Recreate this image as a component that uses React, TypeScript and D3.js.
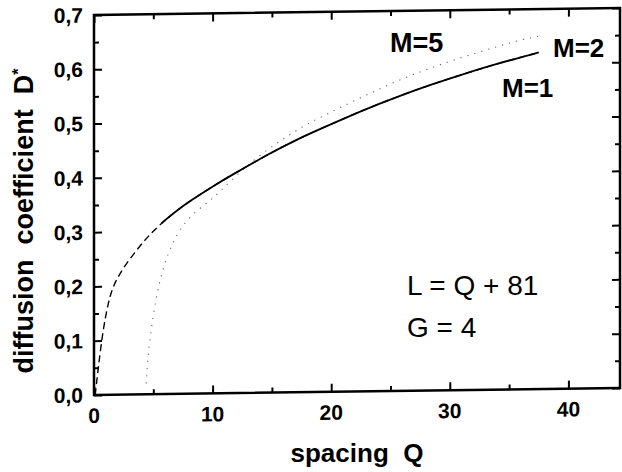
import React, { useEffect, useRef } from 'react';
import * as d3 from 'd3';

// curves: Q (spacing) vs D* (diffusion coefficient)
const m1Q = [5.7, 7.2, 8.9, 10.5, 12.3, 14.5, 17.3, 20.1, 22.9, 25.7, 28.5, 31.3, 34.1, 37.5];
const m1D = [0.315, 0.342, 0.366, 0.388, 0.41, 0.437, 0.468, 0.494, 0.52, 0.543, 0.564, 0.583, 0.601, 0.62];

const m2Q = [0.1, 0.36, 0.76, 1.2, 1.6, 2.35, 3.45, 4.5, 5.7, 7.2, 8.9, 10.5, 12.3, 14.5, 17.3, 20.1, 22.9, 25.7, 28.5, 31.3, 34.1, 37.5];
const m2D = [0.0, 0.05, 0.12, 0.17, 0.2, 0.23, 0.262, 0.29, 0.315, 0.342, 0.366, 0.388, 0.41, 0.437, 0.468, 0.494, 0.52, 0.543, 0.564, 0.583, 0.601, 0.62];

const m5Q = [4.4, 4.6, 5.5, 7.0, 8.5, 10.0, 11.4, 14.0, 17.3, 18.7, 22.35, 25.7, 29.1, 32.4, 35.8, 37.5];
const m5D = [0.02, 0.09, 0.22, 0.3, 0.335, 0.358, 0.389, 0.44, 0.486, 0.502, 0.54, 0.573, 0.6, 0.622, 0.643, 0.65];

const yTicks = [0, 0.1, 0.2, 0.3, 0.4, 0.5, 0.6, 0.7];
const yTickLabels = ['0,0', '0,1', '0,2', '0,3', '0,4', '0,5', '0,6', '0,7'];
const xTicks = [0, 10, 20, 30, 40];
const xTickLabels = ['0', '10', '20', '30', '40'];

const FONT = '"Liberation Sans", Arial, Helvetica, sans-serif';

export default function App() {
  const ref = useRef<SVGGElement>(null);

  useEffect(() => {
    const root = d3.select(ref.current);
    root.selectAll('*').remove();

    const x = d3.scaleLinear().domain([0, 44.35]).range([94, 620]);
    const y = d3.scaleLinear().domain([0, 0.7]).range([395, 15]);
    const [x0, x1] = x.range();
    const [y0, y1] = y.range();

    // the scan is slightly skewed: right side sits a few px higher
    const g = root.append('g')
      .attr('transform', `translate(${x0},0) skewY(-0.77) translate(${-x0},0)`);

    // frame
    g.append('rect')
      .attr('x', x0).attr('y', y1)
      .attr('width', x1 - x0).attr('height', y0 - y1)
      .attr('fill', 'none').attr('stroke', '#000').attr('stroke-width', 2.5);

    // ticks (inward), built from d3 axes
    const xMinor = d3.range(5, 44, 10);
    const yMinor = d3.range(0.05, 0.7, 0.1);
    const axisStyle = (sel: any) => {
      sel.select('.domain').remove();
      sel.selectAll('line').attr('stroke', '#000').attr('stroke-width', 2);
      sel.selectAll('text').remove();
    };
    g.append('g').attr('transform', `translate(0,${y0})`)
      .call(d3.axisBottom(x).tickValues(xTicks).tickSize(-8)).call(axisStyle);
    g.append('g').attr('transform', `translate(0,${y0})`)
      .call(d3.axisBottom(x).tickValues(xMinor).tickSize(-5)).call(axisStyle);
    g.append('g').attr('transform', `translate(0,${y1})`)
      .call(d3.axisTop(x).tickValues(xTicks).tickSize(-8)).call(axisStyle);
    g.append('g').attr('transform', `translate(0,${y1})`)
      .call(d3.axisTop(x).tickValues(xMinor).tickSize(-5)).call(axisStyle);
    g.append('g').attr('transform', `translate(${x0},0)`)
      .call(d3.axisLeft(y).tickValues(yTicks).tickSize(-8)).call(axisStyle);
    g.append('g').attr('transform', `translate(${x0},0)`)
      .call(d3.axisLeft(y).tickValues(yMinor).tickSize(-5)).call(axisStyle);
    g.append('g').attr('transform', `translate(${x1},0)`)
      .call(d3.axisRight(y).tickValues(yTicks).tickSize(-8)).call(axisStyle);
    g.append('g').attr('transform', `translate(${x1},0)`)
      .call(d3.axisRight(y).tickValues(yMinor).tickSize(-5)).call(axisStyle);

    // tick labels
    g.selectAll('text.yl').data(yTicks).enter().append('text')
      .attr('class', 'yl')
      .attr('x', 83).attr('y', d => y(d) + 7.5)
      .attr('text-anchor', 'end')
      .style('font-family', FONT).style('font-weight', 'bold').style('font-size', '21px')
      .text((d, i) => yTickLabels[i]);
    g.selectAll('text.xl').data(xTicks).enter().append('text')
      .attr('class', 'xl')
      .attr('x', d => x(d)).attr('y', y0 + 28)
      .attr('text-anchor', 'middle')
      .style('font-family', FONT).style('font-weight', 'bold').style('font-size', '21px')
      .text((d, i) => xTickLabels[i]);

    const line = d3.line<[number, number]>()
      .x(d => x(d[0])).y(d => y(d[1]))
      .curve(d3.curveBasis);

    g.append('path')
      .datum(m2Q.map((q, i) => [q, m2D[i]] as [number, number]))
      .attr('d', line).attr('fill', 'none')
      .attr('stroke', '#000').attr('stroke-width', 1.4)
      .attr('stroke-dasharray', '7,4');

    g.append('path')
      .datum(m5Q.map((q, i) => [q, m5D[i]] as [number, number]))
      .attr('d', line).attr('fill', 'none')
      .attr('stroke', '#666').attr('stroke-width', 1.1)
      .attr('stroke-dasharray', '1.2,6');

    g.append('path')
      .datum(m1Q.map((q, i) => [q, m1D[i]] as [number, number]))
      .attr('d', line).attr('fill', 'none')
      .attr('stroke', '#000').attr('stroke-width', 1.8);
  }, []);

  const bold = { fontFamily: FONT, fontWeight: 'bold' as const };
  return (
    <svg width={622} height={472}
      style={{ position: 'absolute', left: 0, top: 0, background: '#fff' }}>
      <g ref={ref} />
      <text x={390} y={52} style={{ ...bold, fontSize: 27 }}>M=5</text>
      <text x={553} y={57} style={{ ...bold, fontSize: 26 }}>M=2</text>
      <text x={502} y={97} style={{ ...bold, fontSize: 26 }}>M=1</text>
      <text x={407} y={295} style={{ fontFamily: FONT, fontSize: 28, whiteSpace: 'pre' }}>L = Q + 81</text>
      <text x={407} y={337} style={{ fontFamily: FONT, fontSize: 28, whiteSpace: 'pre' }}>G = 4</text>
      <text x={357} y={462} textAnchor="middle" style={{ ...bold, fontSize: 26, whiteSpace: 'pre' }}>spacing  Q</text>
      <text transform="translate(33,221) rotate(-90)" textAnchor="middle"
        style={{ ...bold, fontSize: 27, whiteSpace: 'pre' }}>
        diffusion  coefficient  D<tspan dy={-9} fontSize={16}>*</tspan>
      </text>
    </svg>
  );
}
